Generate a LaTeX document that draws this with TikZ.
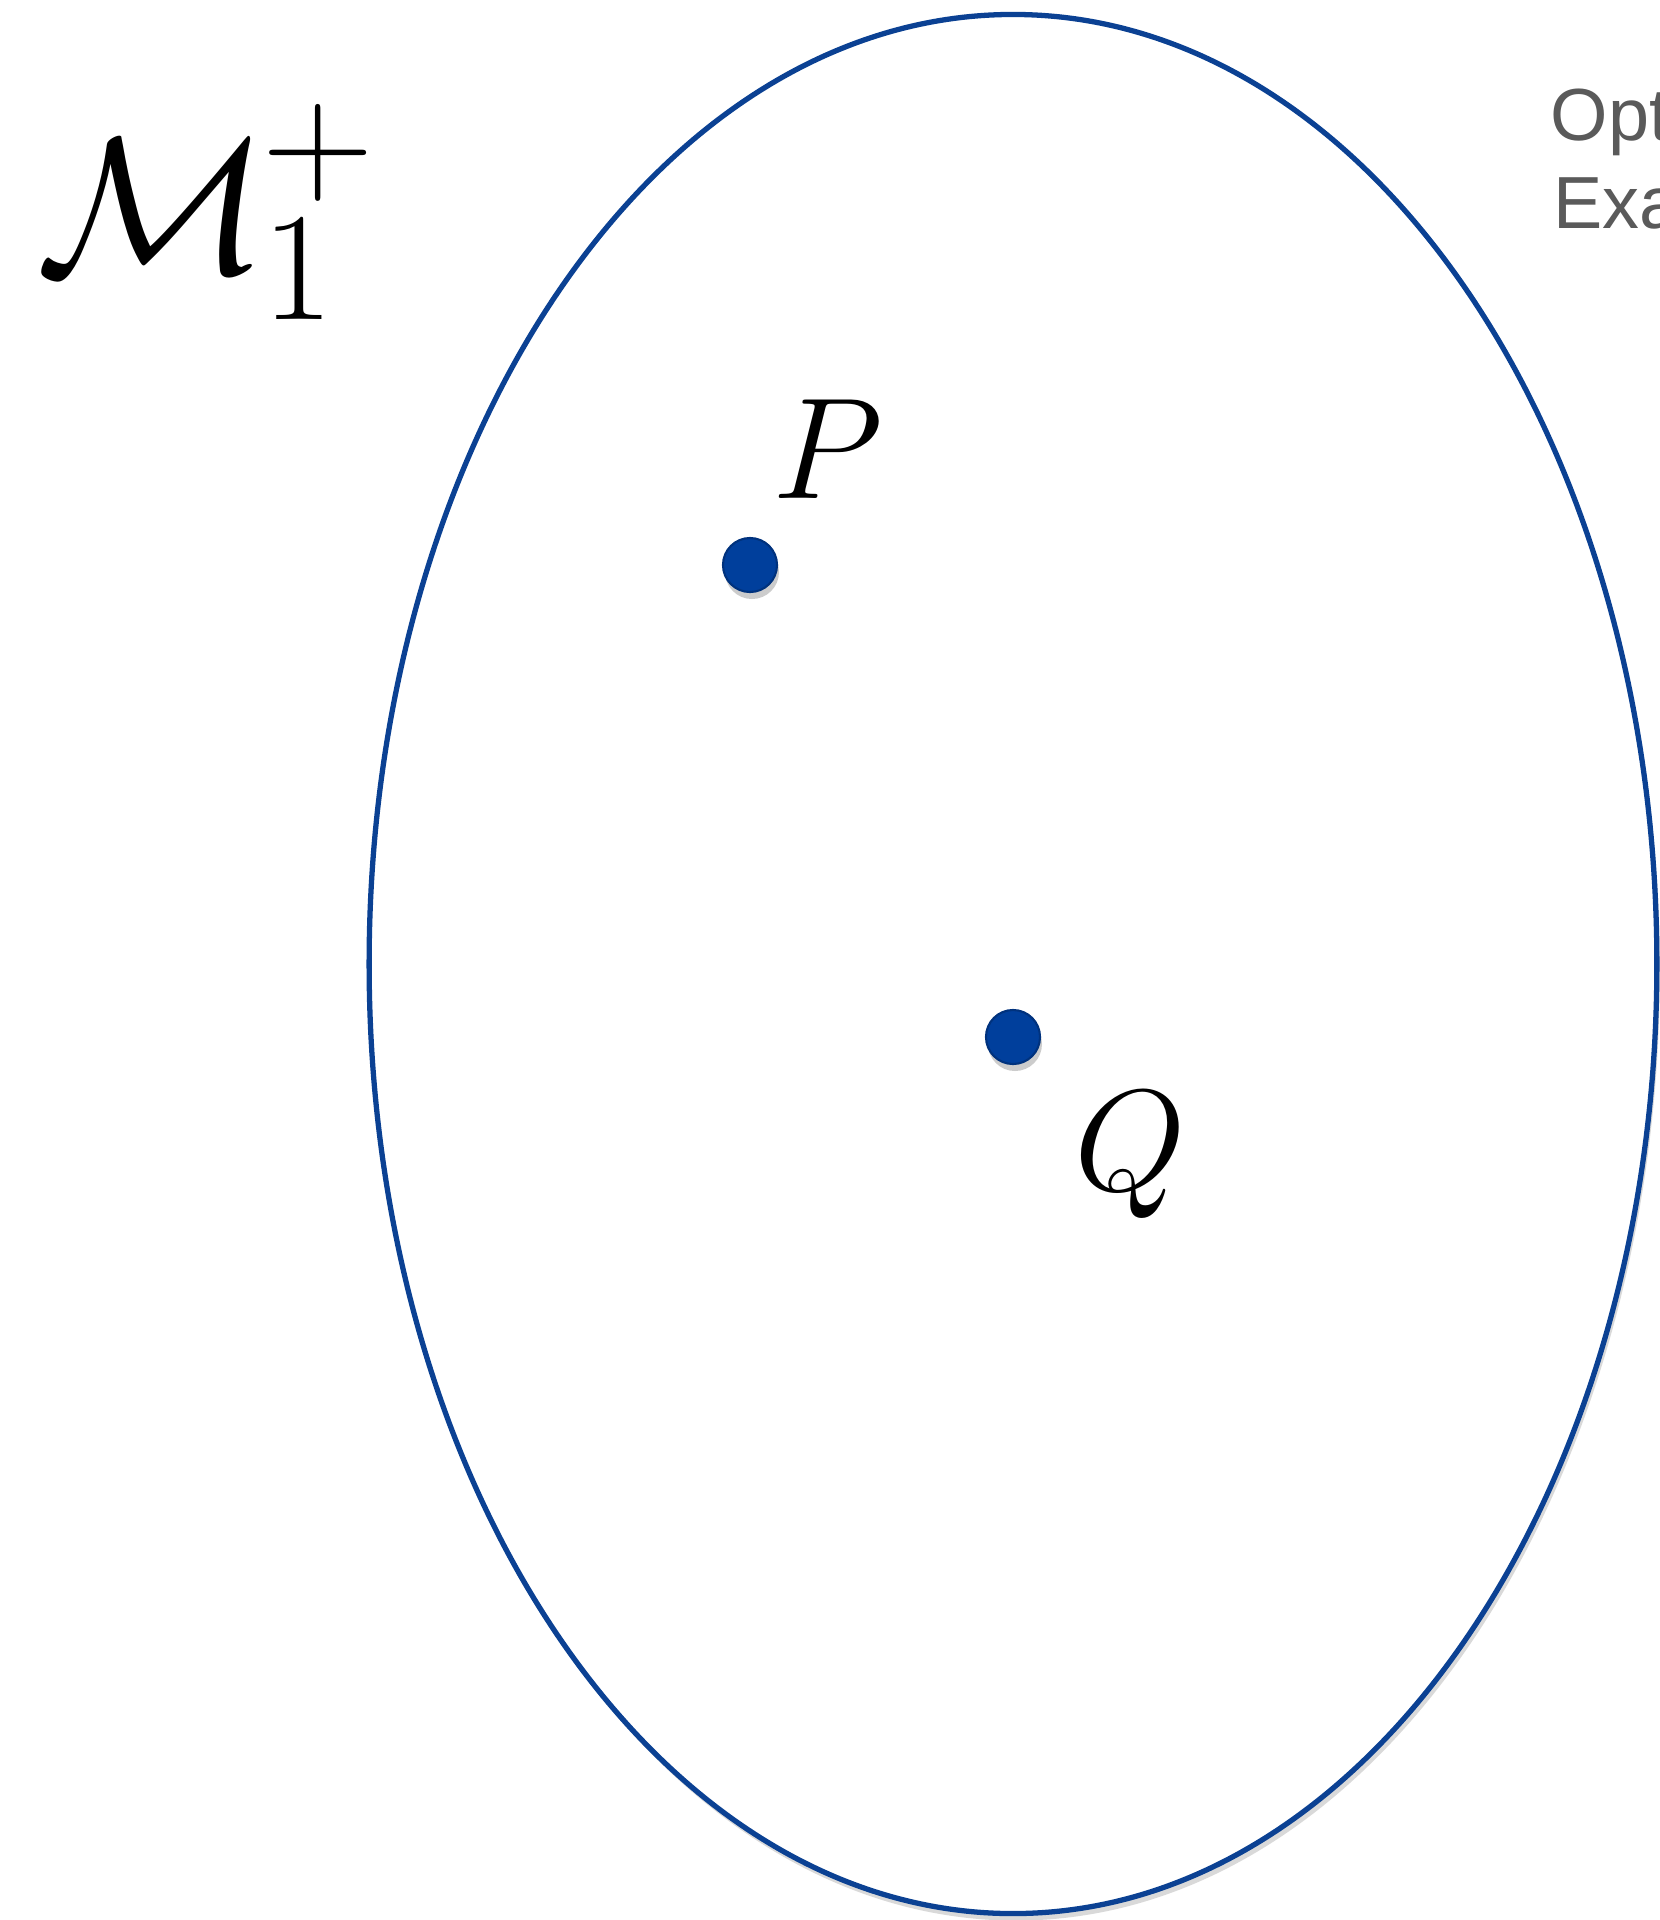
\RequirePackage{fix-cm}
\documentclass[tikz,border=0pt]{standalone}
\usepackage{amsmath,amssymb}
\usepackage{fontspec}
\newfontfamily\notefont{Liberation Sans}
\usepackage{tikz}
\usetikzlibrary{shapes.geometric,shadows,positioning}
\DeclareMathSizes{55}{55}{44}{36}
\definecolor{setblue}{HTML}{0B4193}
\definecolor{dotblue}{HTML}{003F9C}
\definecolor{notegray}{HTML}{5A5A5A}

\begin{document}
\begin{tikzpicture}[x=0.01cm,y=-0.01cm,
  setline/.style={ellipse, draw=setblue, line width=1.5pt, fill=white,
    drop shadow={shadow xshift=0.03cm, shadow yshift=-0.07cm, opacity=0.15, fill=black}},
  pointdot/.style={circle, fill=dotblue, draw=dotblue!80!black, line width=0.6pt,
    minimum size=0.54cm, inner sep=0pt,
    drop shadow={shadow xshift=0.02cm, shadow yshift=-0.07cm, opacity=0.2, fill=black}},
  pointlabel/.style={anchor=base west, inner sep=0pt, font=\fontsize{41}{45}\selectfont},
  notetext/.style={anchor=base west, inner sep=0pt, text=notegray, font=\notefont\fontsize{21}{25}\selectfont}]
\useasboundingbox (0,0) rectangle (1659,1920);
% the set and its two points
\node[setline, minimum width=12.87cm, minimum height=18.98cm] (space) at (1013,964) {};
\node[pointdot] (p) at (750,565) {};
\node[pointdot] (q) at (1013,1037) {};
\node[pointlabel] (plabel) at (772,498) {$P$};
\node[pointlabel] (qlabel) at (1074,1190) {$Q$};
\node[anchor=base west, inner sep=0pt, font=\fontsize{55}{60}\selectfont] (mlabel) at (36,272)
  {$\mathcal{M}\mkern-0.6mu^{\raisebox{0.1cm}{$\scriptstyle+$}}_{\smash{1}}$};
% note at the right edge
\node[notetext] (opt) at (1550,140) {Opt};
\node[notetext] (exa) at (1553,228) {Exa};
\end{tikzpicture}
\end{document}
